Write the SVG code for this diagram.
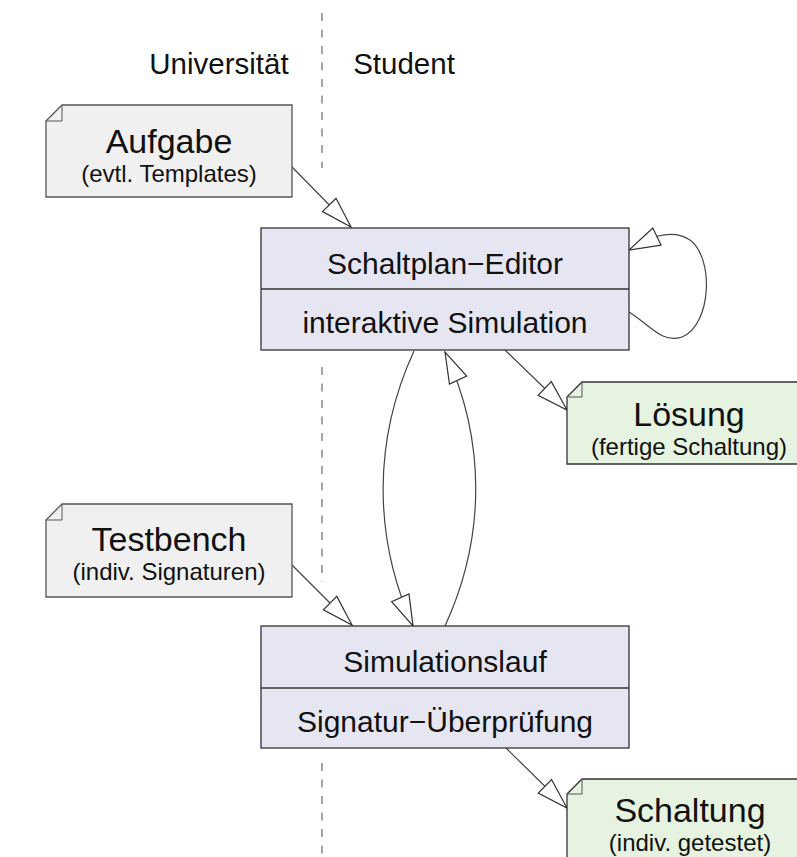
<svg xmlns="http://www.w3.org/2000/svg" width="797" height="857" viewBox="0 0 797 857">
<style>
text{font-family:"Liberation Sans",Arial,sans-serif;fill:#111;text-anchor:middle}
.lane{font-size:29.5px}
.box{fill:#e6e6f3;stroke:#333;stroke-width:1.3}
.sep{stroke:#333;stroke-width:1.3}
.bt{font-size:30px}
.note{fill:#f0f0f0;stroke:#555;stroke-width:1.3}
.gnote{fill:#e5f3e0;stroke:#333;stroke-width:1.3}
.fold{fill:none;stroke:#555;stroke-width:1}
.nt{font-size:34px}
.ns{font-size:24px}
.dash{stroke:#888;stroke-width:1.5;stroke-dasharray:8 8.5;fill:none}
.edge{fill:none;stroke:#444;stroke-width:1.2}
</style>
<defs>
<marker id="tri" markerUnits="userSpaceOnUse" markerWidth="40" markerHeight="30" refX="31" refY="9.5" orient="auto" overflow="visible">
<path d="M0,0 L31,9.5 L0,19 Z" fill="#fff" stroke="#333" stroke-width="1.2"/>
</marker>
</defs>
<rect width="797" height="857" fill="#fff"/>
<g id="swimlane">
<path class="dash" d="M322,13 V168 M322,367 V582 M322,763 V857"/>
<text class="lane" x="219" y="74">Universität</text>
<text class="lane" x="404" y="74">Student</text>
</g>
<g id="connectors">
<path class="edge" d="M292,167 L351,227" marker-end="url(#tri)"/>
<path class="edge" d="M292,565 L352,625" marker-end="url(#tri)"/>
<path class="edge" d="M505,350 L567,410" marker-end="url(#tri)"/>
<path class="edge" d="M506,748 L567,808" marker-end="url(#tri)"/>
<path class="edge" d="M414,351 C373,440 373,537 413,626" marker-end="url(#tri)"/>
<path class="edge" d="M445,626 C486,537 486,440 445,352" marker-end="url(#tri)"/>
<path class="edge" d="M629,312 C650,325 662,344 682,337 C712,324 714,258 690,240 C680,233 670,233 658,236 L629,250" marker-end="url(#tri)"/>
</g>
<g id="aufgabe">
<path class="note" d="M46,121 L62,105 H292 V197 H46 Z"/>
<path class="fold" d="M62,105 V121 H46"/>
<text class="nt" x="169" y="153">Aufgabe</text>
<text class="ns" x="169" y="182">(evtl. Templates)</text>
</g>
<g id="editor">
<rect class="box" x="261" y="228" width="368" height="122"/>
<line class="sep" x1="261" y1="289" x2="629" y2="289"/>
<text class="bt" x="445" y="274">Schaltplan−Editor</text>
<text class="bt" x="445" y="333">interaktive Simulation</text>
</g>
<g id="loesung">
<path class="gnote" d="M567,397 L582,382 H812 V464 H567 Z"/>
<path class="fold" d="M582,382 V397 H567"/>
<text class="nt" x="689" y="426">Lösung</text>
<text class="ns" x="689" y="455">(fertige Schaltung)</text>
</g>
<g id="testbench">
<path class="note" d="M46,520 L62,504 H292 V597 H46 Z"/>
<path class="fold" d="M62,504 V520 H46"/>
<text class="nt" x="169" y="551">Testbench</text>
<text class="ns" x="169" y="580">(indiv. Signaturen)</text>
</g>
<g id="simulation">
<rect class="box" x="261" y="626" width="368" height="122"/>
<line class="sep" x1="261" y1="688" x2="629" y2="688"/>
<text class="bt" x="445" y="672">Simulationslauf</text>
<text class="bt" x="445" y="732">Signatur−Überprüfung</text>
</g>
<g id="schaltung">
<path class="gnote" d="M567,794 L582,779 H812 V880 H567 Z"/>
<path class="fold" d="M582,779 V794 H567"/>
<text class="nt" x="690" y="822">Schaltung</text>
<text class="ns" x="690" y="851">(indiv. getestet)</text>
</g>
</svg>
